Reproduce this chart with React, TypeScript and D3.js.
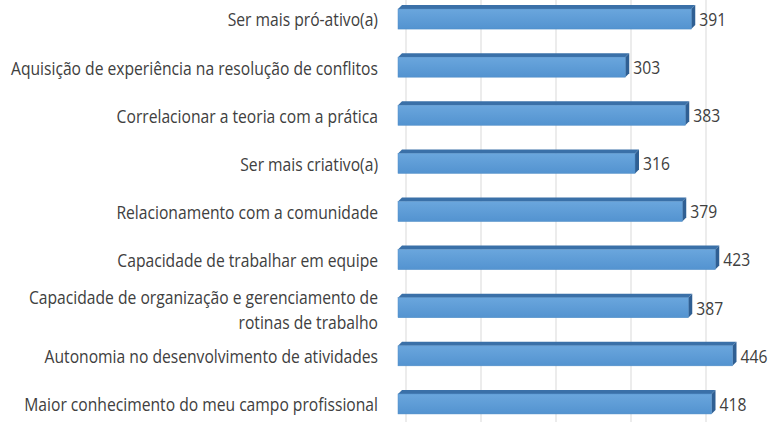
import React from "react";
import * as d3 from "d3";

const categories = [
  "Ser mais pró-ativo(a)",
  "Aquisição de experiência na resolução de conflitos",
  "Correlacionar a teoria com a prática",
  "Ser mais criativo(a)",
  "Relacionamento com a comunidade",
  "Capacidade de trabalhar em equipe",
  "Capacidade de organização e gerenciamento de\nrotinas de trabalho",
  "Autonomia no desenvolvimento de atividades",
  "Maior conhecimento do meu campo profissional",
];
const values = [391, 303, 383, 316, 379, 423, 387, 446, 418];
const xTicks = [0, 100, 200, 300, 400, 500];

const W = 774;
const H = 422;
const FONT = "'Open Sans', sans-serif";
const SX = 0.87;
const LINE = 24.5;

export default function App() {
  const x = d3.scaleLinear().domain([0, 500]).range([398, 773]);
  const y = d3
    .scaleBand<string>()
    .domain(categories)
    .range([-5, 428])
    .paddingInner(0.584)
    .paddingOuter(0.292);
  const d = 4;
  const wallDx = 8;
  const bw = y.bandwidth();

  return (
    <svg
      width={W}
      height={H}
      style={{ position: "absolute", left: 0, top: 0, background: "#fff" }}
      fontFamily={FONT}
    >
      <defs>
        <linearGradient id="front" x1="0" y1="0" x2="0" y2="1">
          <stop offset="0" stopColor="#6aa6dd" />
          <stop offset="1" stopColor="#5393d0" />
        </linearGradient>
      </defs>
      {xTicks.map((t) => (
        <line
          key={t}
          x1={x(t) + wallDx}
          x2={x(t) + wallDx}
          y1={0}
          y2={H}
          stroke="#d9d9d9"
          strokeWidth={1}
        />
      ))}
      {categories.map((c, i) => {
        const y0 = y(c)!;
        const y1 = y0 + bw;
        const x0 = x(0);
        const x1 = x(values[i]);
        const lines = c.split("\n");
        const cy = y0 + bw / 2;
        const shift = lines.length > 1 ? 1.5 : 0;
        const firstY = cy + 2 + shift - ((lines.length - 1) / 2) * LINE;
        return (
          <g key={c}>
            <polygon
              points={`${x0},${y0} ${x0 + d},${y0 - d} ${x1 + d},${y0 - d} ${x1},${y0}`}
              fill="#3a70a8"
            />
            <polygon
              points={`${x1},${y0} ${x1 + d},${y0 - d} ${x1 + d},${y1 - d} ${x1},${y1}`}
              fill="#2f5f93"
            />
            <rect
              x={x0}
              y={y0}
              width={x1 - x0}
              height={bw}
              fill="url(#front)"
              stroke="#4f8cc6"
              strokeWidth={0.5}
            />
            <text
              transform={`translate(${x1 + d + 4},${cy + 2}) scale(${SX},1)`}
              dominantBaseline="middle"
              fontSize={18}
              fill="#404040"
            >
              {values[i]}
            </text>
            <text
              transform={`translate(378,${firstY}) scale(${SX},1)`}
              dominantBaseline="middle"
              textAnchor="end"
              fontSize={18}
              fill="#404040"
            >
              {lines.map((ln, k) => (
                <tspan key={k} x={0} y={k * LINE}>
                  {ln}
                </tspan>
              ))}
            </text>
          </g>
        );
      })}
    </svg>
  );
}
